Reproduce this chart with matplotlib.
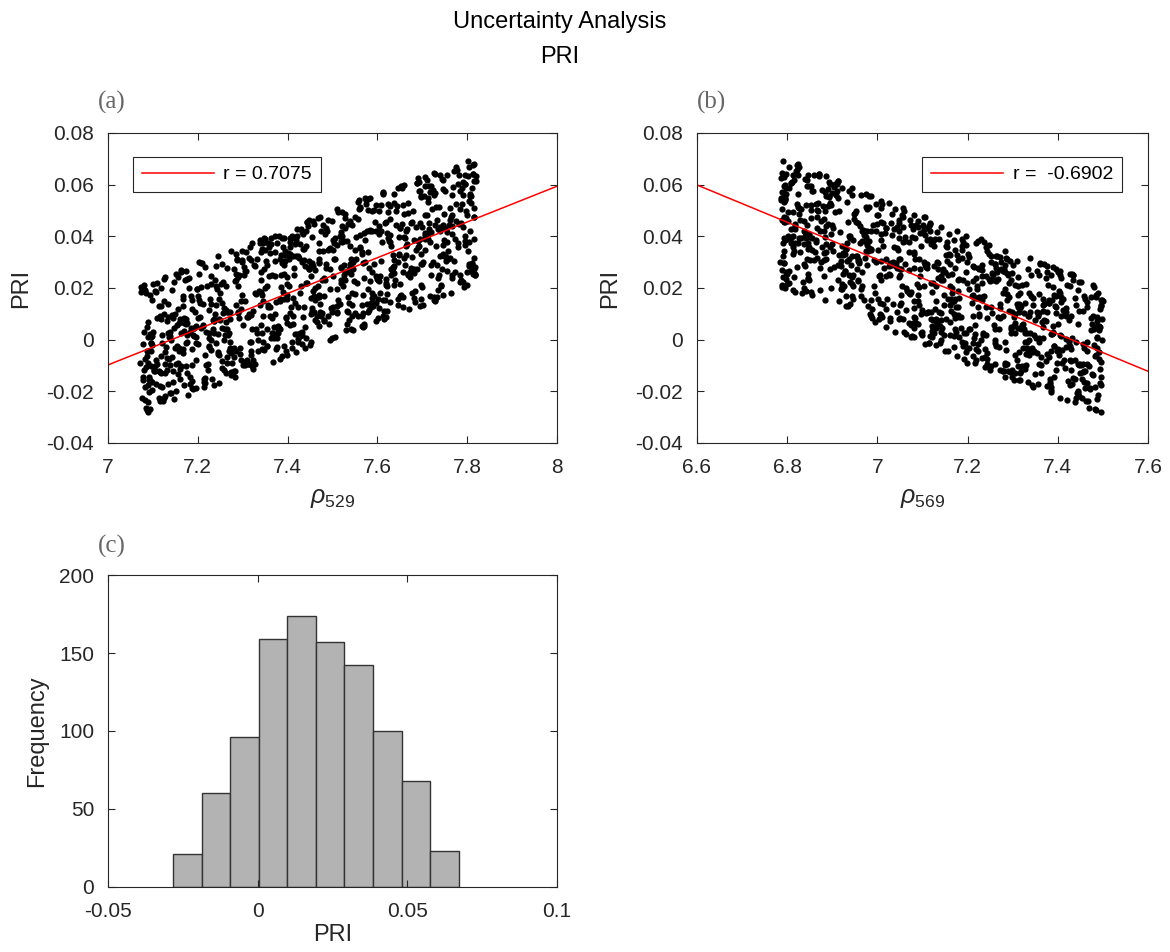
import numpy as np
import matplotlib.pyplot as plt
from matplotlib.ticker import FuncFormatter

plt.rcParams['font.family'] = ['Liberation Sans', 'DejaVu Sans']
plt.rcParams['mathtext.fontset'] = 'custom'
plt.rcParams['mathtext.rm'] = 'Liberation Sans'
plt.rcParams['mathtext.it'] = 'Liberation Sans:italic'

# Monte Carlo samples of the two reflectances, in thousandths above the base value
RHO529_BASE = 7.0
RHO569_BASE = 6.7
d529 = [
    412, 87, 655, 233, 790, 518, 142, 371, 699, 264, 583, 105, 447, 812, 326, 174, 621, 498, 259, 733,
    96, 540, 381, 707, 215, 468, 802, 139, 596, 302, 675, 421, 188, 749, 357, 623, 82, 511, 284, 660,
    437, 767, 121, 349, 578, 226, 694, 405, 159, 533, 816, 272, 645, 391, 113, 487, 718, 246, 562, 339,
    780, 198, 452, 631, 74, 367, 525, 243, 684, 415, 155, 801, 296, 570, 133, 458, 726, 319, 604, 208,
    549, 91, 386, 742, 271, 613, 167, 495, 805, 342, 229, 671, 118, 440, 587, 763, 305, 192, 528, 657,
    254, 706, 479, 127, 395, 818, 566, 213, 638, 360, 99, 502, 747, 281, 429, 176, 691, 541, 322, 618,
    145, 474, 773, 238, 601, 417, 79, 332, 686, 557, 201, 795, 364, 510, 262, 643, 103, 448, 729, 390,
    668, 317, 170, 535, 756, 289, 424, 88, 609, 379, 713, 247, 492, 136, 578, 808, 355, 221, 462, 697,
    292, 581, 123, 744, 406, 186, 652, 519, 348, 77, 470, 785, 235, 627, 399, 161, 554, 715, 276, 433,
    810, 205, 543, 374, 95, 688, 456, 315, 761, 148, 592, 267, 419, 734, 182, 506, 641, 337, 115, 575,
    384, 735, 250, 489, 128, 662, 571, 307, 814, 193, 444, 620, 86, 388, 723, 269, 538, 153, 679, 409,
    229, 598, 761, 346, 110, 477, 702, 263, 549, 185, 818, 413, 327, 636, 92, 505, 759, 240, 383, 664,
    514, 166, 441, 787, 303, 630, 73, 420, 562, 219, 696, 351, 138, 777, 482, 284, 609, 190, 745, 371,
    650, 335, 108, 587, 800, 256, 466, 174, 711, 396, 522, 82, 634, 299, 453, 767, 210, 548, 125, 682,
    321, 754, 483, 197, 627, 361, 814, 141, 509, 276, 665, 428, 99, 572, 739, 244, 391, 603, 168, 455,
    706, 132, 560, 310, 685, 447, 223, 795, 378, 116, 615, 290, 527, 751, 176, 434, 656, 83, 341, 589,
    458, 275, 621, 102, 727, 398, 541, 207, 805, 354, 159, 693, 472, 318, 584, 89, 745, 262, 513, 371,
    188, 659, 353, 776, 237, 501, 124, 634, 410, 717, 285, 566, 76, 399, 819, 214, 550, 330, 693, 145,
    577, 418, 96, 697, 316, 815, 253, 534, 175, 645, 387, 482, 728, 131, 604, 272, 441, 766, 203, 519,
    344, 790, 226, 471, 152, 612, 375, 738, 93, 526, 265, 681, 416, 184, 553, 803, 299, 637, 118, 449,
    597, 140, 773, 283, 524, 367, 665, 85, 435, 748, 208, 579, 329, 699, 162, 491, 806, 253, 615, 395,
    119, 470, 645, 312, 785, 198, 543, 402, 720, 274, 90, 593, 356, 812, 230, 486, 651, 167, 528, 761,
    426, 683, 245, 557, 134, 719, 381, 80, 624, 297, 467, 791, 178, 535, 342, 706, 104, 451, 585, 260,
    731, 298, 509, 173, 653, 427, 808, 216, 573, 114, 366, 688, 482, 239, 745, 391, 158, 619, 332, 504,
    187, 565, 401, 749, 87, 460, 288, 638, 359, 796, 223, 517, 146, 670, 434, 311, 782, 556, 95, 415,
    659, 354, 121, 696, 522, 255, 817, 413, 180, 604, 346, 740, 476, 109, 568, 292, 713, 439, 201, 786,
    268, 751, 439, 156, 584, 373, 676, 237, 800, 485, 131, 627, 320, 533, 72, 704, 455, 248, 592, 363,
    498, 126, 603, 774, 293, 448, 168, 716, 384, 540, 815, 227, 661, 405, 99, 569, 338, 758, 186, 622,
    81, 531, 344, 640, 211, 765, 492, 154, 678, 308, 427, 596, 125, 797, 264, 459, 721, 377, 549, 234,
    702, 421, 191, 582, 365, 812, 107, 469, 275, 647, 536, 240, 733, 398, 148, 613, 304, 793, 470, 163,
    353, 616, 88, 455, 739, 282, 561, 144, 690, 410, 231, 785, 519, 327, 667, 100, 443, 576, 205, 758,
    543, 196, 728, 379, 117, 607, 473, 820, 258, 393, 678, 162, 511, 745, 315, 85, 632, 423, 289, 698,
    130, 474, 303, 805, 567, 215, 645, 350, 90, 753, 436, 592, 181, 719, 270, 525, 397, 771, 151, 610,
    779, 244, 580, 407, 694, 139, 504, 322, 650, 81, 546, 226, 788, 431, 175, 589, 362, 714, 262, 489,
    318, 664, 173, 526, 432, 796, 271, 613, 119, 385, 737, 502, 225, 574, 817, 345, 97, 682, 454, 195,
    625, 94, 403, 752, 236, 561, 377, 133, 705, 286, 458, 814, 182, 528, 340, 641, 249, 495, 770, 116,
    452, 707, 281, 169, 619, 340, 791, 512, 78, 428, 657, 298, 544, 189, 731, 406, 572, 127, 690, 348,
    214, 541, 667, 392, 808, 105, 466, 257, 595, 726, 371, 150, 486, 637, 294, 779, 212, 537, 412, 83,
    587, 369, 136, 707, 255, 484, 799, 321, 169, 655, 536, 93, 399, 764, 241, 616, 460, 183, 729, 334,
    736, 172, 499, 310, 628, 91, 446, 715, 384, 247, 570, 806, 203, 361, 676, 519, 142, 597, 282, 471,
    120, 651, 437, 788, 327, 212, 559, 673, 99, 494, 286, 742, 405, 163, 618, 350, 811, 230, 527, 394,
    580, 308, 751, 152, 473, 694, 264, 416, 815, 115, 545, 356, 682, 203, 461, 76, 634, 389, 755, 247,
    396, 810, 219, 561, 86, 424, 700, 287, 606, 478, 134, 767, 323, 520, 649, 188, 443, 733, 301, 565,
    674, 261, 127, 482, 713, 371, 542, 196, 775, 405, 622, 301, 94, 456, 803, 240, 590, 170, 712, 365,
    237, 502, 794, 341, 601, 155, 418, 637, 280, 729, 468, 110, 583, 370, 695, 273, 521, 802, 149, 433,
    766, 417, 173, 657, 290, 521, 84, 398, 744, 226, 565, 385, 138, 719, 457, 612, 318, 191, 546, 667,
    305, 602, 447, 108, 781, 348, 664, 217, 509, 438, 796, 161, 623, 276, 411, 745, 96, 537, 358, 693,
    517, 143, 725, 392, 258, 570, 816, 315, 442, 89, 648, 505, 229, 688, 376, 157, 596, 768, 280, 453,
    160, 697, 318, 585, 754, 431, 124, 533, 659, 296, 812, 382, 201, 471, 606, 339, 740, 113, 552, 424,
    628, 387, 806, 252, 496, 101, 631, 469, 177, 723, 341, 569, 785, 265, 430, 672, 195, 494, 346, 711,
]
d569 = [
    623, 318, 104, 472, 751, 265, 539, 187, 690, 412, 96, 578, 344, 727, 213, 495, 659, 137, 381, 784,
    457, 176, 612, 299, 733, 526, 91, 398, 681, 245, 563, 148, 760, 332, 474, 207, 645, 521, 114, 376,
    292, 707, 438, 155, 584, 363, 796, 229, 503, 667, 123, 418, 741, 276, 590, 182, 454, 629, 337, 95,
    540, 221, 764, 397, 118, 631, 480, 263, 702, 351, 583, 170, 427, 776, 240, 509, 88, 685, 308, 444,
    166, 599, 327, 720, 453, 98, 544, 281, 675, 390, 222, 793, 511, 138, 617, 357, 752, 430, 202, 565,
    715, 406, 145, 561, 259, 690, 371, 783, 124, 478, 634, 301, 547, 196, 429, 662, 87, 384, 738, 253,
    328, 637, 488, 212, 774, 156, 405, 596, 343, 719, 263, 523, 108, 653, 462, 191, 578, 309, 798, 420,
    589, 112, 351, 676, 489, 243, 740, 375, 153, 618, 437, 793, 286, 543, 95, 705, 354, 226, 649, 502,
    236, 472, 768, 139, 555, 320, 691, 411, 93, 602, 274, 746, 497, 179, 388, 628, 532, 148, 710, 297,
    661, 382, 200, 729, 415, 580, 102, 469, 307, 787, 166, 540, 253, 673, 440, 788, 215, 365, 594, 121,
    457, 744, 295, 128, 616, 384, 519, 229, 697, 343, 93, 568, 451, 782, 178, 635, 312, 489, 252, 724,
    181, 548, 373, 659, 105, 442, 796, 266, 587, 423, 731, 148, 369, 512, 686, 239, 401, 139, 625, 476,
    610, 280, 732, 416, 203, 557, 89, 688, 344, 474, 760, 219, 582, 121, 435, 648, 297, 772, 190, 525,
    318, 698, 153, 497, 779, 239, 633, 390, 115, 567, 275, 721, 452, 174, 606, 354, 94, 513, 753, 409,
    770, 125, 445, 610, 333, 182, 529, 745, 278, 646, 418, 199, 684, 308, 551, 91, 463, 719, 230, 592,
    395, 533, 86, 726, 472, 350, 659, 160, 603, 286, 797, 441, 127, 565, 386, 230, 708, 492, 161, 646,
    117, 653, 316, 571, 208, 784, 425, 93, 537, 692, 370, 154, 614, 479, 269, 739, 144, 398, 587, 318,
    538, 248, 691, 104, 434, 611, 283, 515, 759, 183, 392, 667, 96, 471, 213, 757, 345, 570, 110, 683,
    266, 791, 414, 192, 627, 357, 138, 592, 447, 711, 259, 536, 800, 329, 184, 622, 419, 685, 146, 498,
    700, 193, 564, 341, 744, 89, 465, 282, 616, 405, 173, 738, 509, 244, 393, 661, 116, 554, 303, 781,
    142, 441, 677, 258, 520, 795, 336, 132, 603, 470, 221, 719, 373, 561, 97, 657, 281, 486, 748, 202,
    606, 334, 98, 486, 705, 219, 578, 403, 153, 778, 294, 641, 462, 121, 530, 362, 696, 247, 445, 585,
    273, 764, 516, 181, 397, 641, 113, 550, 347, 713, 461, 264, 790, 191, 605, 428, 142, 333, 672, 503,
    488, 159, 618, 357, 92, 689, 286, 764, 432, 231, 544, 108, 673, 396, 784, 256, 524, 606, 187, 349,
    722, 381, 223, 563, 784, 465, 145, 621, 303, 497, 695, 236, 381, 590, 149, 749, 417, 92, 543, 315,
    96, 596, 398, 679, 240, 352, 733, 480, 197, 564, 118, 416, 624, 289, 793, 471, 213, 667, 384, 734,
    413, 210, 787, 116, 549, 648, 307, 431, 701, 166, 598, 369, 91, 745, 499, 193, 572, 321, 460, 137,
    639, 497, 261, 391, 676, 88, 519, 757, 237, 411, 638, 302, 531, 194, 430, 715, 108, 588, 270, 756,
    339, 774, 147, 597, 432, 244, 701, 375, 579, 129, 466, 786, 215, 359, 662, 520, 276, 146, 696, 423,
    553, 109, 428, 712, 305, 171, 657, 513, 93, 362, 724, 246, 601, 448, 136, 681, 389, 780, 232, 611,
    242, 687, 517, 183, 391, 795, 270, 618, 455, 140, 753, 338, 478, 219, 590, 100, 424, 669, 306, 542,
    706, 421, 97, 639, 234, 455, 571, 186, 729, 326, 503, 88, 658, 385, 166, 770, 532, 255, 437, 185,
    469, 172, 744, 309, 612, 122, 498, 363, 796, 571, 231, 681, 147, 402, 535, 274, 765, 610, 99, 356,
    195, 614, 382, 522, 157, 743, 262, 463, 629, 88, 403, 570, 311, 704, 487, 168, 652, 379, 750, 286,
    631, 348, 104, 456, 690, 211, 583, 777, 138, 392, 659, 245, 515, 96, 734, 429, 183, 574, 327, 481,
    362, 783, 257, 595, 419, 125, 667, 310, 488, 224, 598, 404, 731, 153, 558, 290, 441, 797, 120, 675,
    517, 143, 631, 378, 787, 266, 442, 102, 583, 708, 197, 352, 646, 461, 274, 620, 87, 746, 424, 255,
    738, 466, 194, 728, 326, 551, 664, 407, 235, 795, 102, 499, 381, 168, 642, 518, 313, 434, 578, 114,
    277, 597, 420, 92, 674, 197, 381, 560, 728, 300, 451, 154, 606, 789, 350, 257, 533, 691, 200, 637,
    403, 148, 788, 482, 248, 614, 117, 347, 469, 636, 791, 275, 85, 526, 704, 408, 172, 286, 761, 531,
    685, 318, 552, 222, 764, 438, 130, 612, 377, 504, 258, 728, 164, 425, 591, 99, 669, 335, 490, 224,
    153, 729, 409, 587, 93, 330, 506, 684, 212, 763, 446, 125, 598, 285, 371, 705, 522, 177, 653, 430,
    571, 244, 663, 126, 477, 719, 356, 151, 540, 280, 682, 415, 794, 217, 459, 630, 96, 347, 517, 788,
    312, 534, 90, 670, 401, 233, 781, 512, 297, 142, 612, 748, 363, 479, 127, 560, 694, 421, 233, 628,
    795, 441, 207, 375, 556, 649, 165, 478, 757, 374, 98, 543, 272, 658, 417, 755, 186, 584, 306, 139,
    458, 186, 620, 764, 292, 113, 538, 348, 633, 491, 729, 214, 417, 583, 341, 92, 703, 469, 791, 251,
    229, 667, 353, 519, 146, 709, 426, 605, 88, 325, 547, 683, 163, 775, 244, 496, 381, 627, 148, 453,
    614, 309, 774, 130, 560, 271, 405, 756, 221, 642, 462, 351, 586, 108, 719, 287, 533, 203, 681, 395,
    349, 560, 181, 697, 433, 755, 98, 281, 487, 382, 170, 792, 524, 318, 636, 447, 112, 740, 275, 541,
    707, 126, 476, 244, 617, 358, 525, 689, 146, 574, 309, 434, 238, 699, 117, 583, 772, 395, 511, 302,
]

# correlation coefficients shown in the legends
r_529 = 0.7075
r_569 = -0.6902

# histogram of PRI: 10 bins between min and max
hist_counts = [21, 60, 96, 159, 174, 157, 142, 100, 68, 23]
pri_min = -0.0283
pri_max = 0.0672

rho529 = RHO529_BASE + np.array(d529) / 1000.0
rho569 = RHO569_BASE + np.array(d569) / 1000.0
pri = (rho529 - rho569) / (rho529 + rho569)

AX_COLOR = '0.15'
fmt = FuncFormatter(lambda v, p: '%g' % round(v, 6))


def style_axes(ax):
    ax.tick_params(direction='in', top=True, right=True, length=5, width=0.8,
                   color=AX_COLOR, labelcolor=AX_COLOR, labelsize=15)
    ax.tick_params(axis='x', pad=11)
    ax.tick_params(axis='y', pad=10)
    for s in ax.spines.values():
        s.set_color(AX_COLOR)
        s.set_linewidth(0.8)
    ax.xaxis.set_major_formatter(fmt)
    ax.yaxis.set_major_formatter(fmt)


def scatter_panel(ax, x, y, xlim, xticks, xlabel, label, loc, anchor):
    ax.plot(x, y, 'o', ms=4.5, mfc='k', mec='k', mew=0, ls='none')
    k, b = np.polyfit(x, y, 1)
    xs = np.array(xlim)
    ax.plot(xs, k * xs + b, color='red', lw=1.1, label=label)
    ax.set_xlim(xlim)
    ax.set_ylim(-0.04, 0.08)
    ax.set_xticks(xticks)
    ax.set_yticks(np.arange(-0.04, 0.081, 0.02))
    ax.set_xlabel(xlabel, fontsize=18, color=AX_COLOR, labelpad=6)
    ax.set_ylabel('PRI', fontsize=17, color=AX_COLOR, labelpad=10)
    leg = ax.legend(loc=loc, bbox_to_anchor=anchor, borderaxespad=0, fontsize=14,
                    handlelength=3.7, handletextpad=0.5, borderpad=0.45,
                    fancybox=False, framealpha=1, edgecolor=AX_COLOR)
    leg.get_frame().set_linewidth(0.8)
    style_axes(ax)


fig = plt.figure(figsize=(11.7, 9.52), dpi=100)

ax_a = fig.add_axes([0.0923, 0.5347, 0.3838, 0.3256])
scatter_panel(ax_a, rho529, pri, (7, 8), [7, 7.2, 7.4, 7.6, 7.8, 8],
              r'$\rho_{\mathrm{529}}$', 'r = %.4f' % r_529,
              'upper left', (25 / 449, 1 - 24 / 310))

ax_b = fig.add_axes([0.5957, 0.5347, 0.3855, 0.3256])
scatter_panel(ax_b, rho569, pri, (6.6, 7.6), [6.6, 6.8, 7, 7.2, 7.4, 7.6],
              r'$\rho_{\mathrm{569}}$', 'r =  %.4f' % r_569,
              'upper right', (1 - 26 / 451, 1 - 24 / 310))

ax_c = fig.add_axes([0.0923, 0.0683, 0.3838, 0.3277])
edges = np.linspace(pri_min, pri_max, len(hist_counts) + 1)
ax_c.bar(edges[:-1], hist_counts, width=np.diff(edges), align='edge',
         color='0.7', edgecolor='0.2', linewidth=1.0)
ax_c.set_xlim(-0.05, 0.1)
ax_c.set_ylim(0, 200)
ax_c.set_xticks([-0.05, 0, 0.05, 0.1])
ax_c.set_yticks([0, 50, 100, 150, 200])
ax_c.set_xlabel('PRI', fontsize=17, color=AX_COLOR, labelpad=2)
ax_c.set_ylabel('Frequency', fontsize=17, color=AX_COLOR, labelpad=8)
style_axes(ax_c)

# panel letters
for xf, yf, txt in [(0.084, 0.892, '(a)'), (0.596, 0.892, '(b)'), (0.084, 0.426, '(c)')]:
    fig.text(xf, yf, txt, family=['Liberation Serif', 'DejaVu Serif'],
             fontsize=18, color='0.4', ha='left', va='center')

fig.text(0.478, 1 - 22 / 952, 'Uncertainty Analysis', ha='center', va='center',
         fontsize=17, color='k')
fig.text(0.478, 1 - 57 / 952, 'PRI', ha='center', va='center',
         fontsize=17, color='k')

fig.savefig('out.png', dpi=100)
